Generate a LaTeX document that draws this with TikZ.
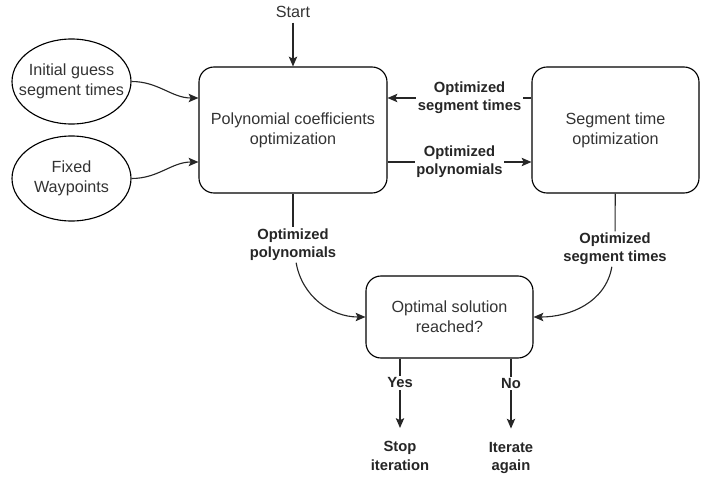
\documentclass[tikz,border=0pt]{standalone}
\usepackage{fontspec}
\setmainfont{Liberation Sans}
\usetikzlibrary{shapes.geometric,arrows.meta}
\begin{document}
\begin{tikzpicture}[
    box/.style={draw, rounded corners=0.375cm, align=center, line width=0.8pt,
                font=\fontsize{11.5}{14}\selectfont, text=black!80},
    ell/.style={draw, ellipse, minimum width=2.975cm, minimum height=2.125cm, line width=0.8pt,
                inner xsep=-0.5cm, inner ysep=-0.3cm, align=center,
                font=\fontsize{11.5}{14}\selectfont, text=black!80},
    lbl/.style={fill=white, align=center, inner sep=1pt,
                font=\fontsize{10.5}{13}\selectfont\bfseries, text=black!85},
    arr/.style={-{Stealth[length=7pt,width=6pt,inset=1.5pt]}, line width=0.8pt, black!85},
    line/.style={line width=0.8pt, black!85},
]
\useasboundingbox (0,0) rectangle (17.775,-11.95);
\node[font=\fontsize{11.5}{14}\selectfont, text=black!80] (start) at (7.325,-0.3) {Start};
\node[box, minimum width=4.7cm, minimum height=3.15cm]   (poly) at (7.325,-3.25)   {Polynomial coefficients\\optimization};
\node[box, minimum width=4.175cm, minimum height=3.15cm] (seg)  at (15.3875,-3.25) {Segment time\\optimization};
\node[box, minimum width=4.175cm, minimum height=2.05cm] (opt)  at (11.2375,-7.925) {Optimal solution\\reached?};
\node[ell] (guess) at (1.7875,-2.0375) {Initial guess\\segment times};
\node[ell] (wayp)  at (1.7875,-4.4625) {Fixed\\Waypoints};
\node[lbl] (lpoly) at (7.325,-6.125)  {Optimized\\polynomials};
\node[lbl] (lseg)  at (15.375,-6.225) {Optimized\\segment times};
\node[lbl] (stop)  at (10,-11.4)      {Stop\\iteration};
\node[lbl] (again) at (12.775,-11.45) {Iterate\\again};
\draw[arr] (start) -- (poly);
\draw[arr] (guess.east) to[out=0,in=180] ([yshift=0.8cm]poly.west);
\draw[arr] (wayp.east) to[out=0,in=180] ([yshift=-0.8cm]poly.west);
\draw[arr] ([yshift=0.8cm]seg.west) -- node[lbl,pos=0.43] {Optimized\\segment times} ([yshift=0.8cm]poly.east);
\draw[arr] ([yshift=-0.8cm]poly.east) -- node[lbl] {Optimized\\polynomials} ([yshift=-0.8cm]seg.west);
\draw[line] (poly) -- (lpoly);
\draw[arr] (lpoly) to[out=-80,in=180] (opt.west);
\draw[line] (seg) -- (lseg);
\draw[arr] (lseg) to[out=-100,in=0] (opt.east);
\draw[arr, shorten >=0.3cm] (opt.south -| stop) -- node[lbl,pos=0.3] {Yes} (stop);
\draw[arr, shorten >=0.3cm] (opt.south -| again) -- node[lbl,pos=0.3] {No} (again);
\end{tikzpicture}
\end{document}
